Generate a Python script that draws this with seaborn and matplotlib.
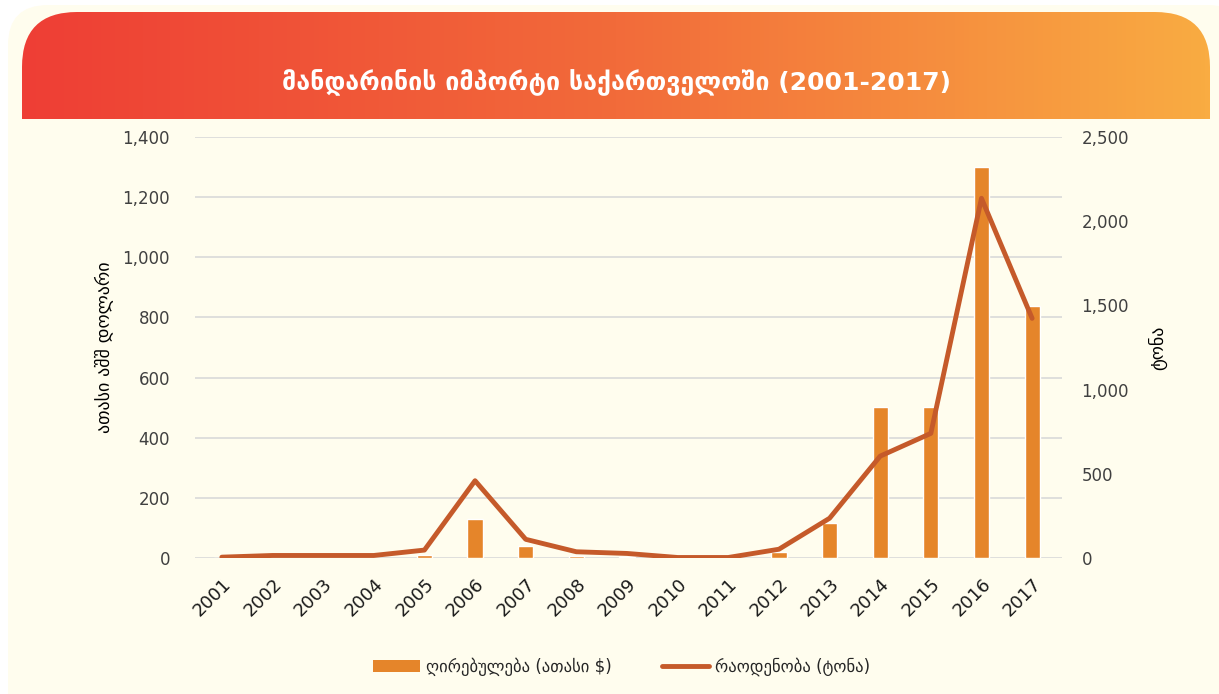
import numpy as np
import matplotlib.pyplot as plt
import seaborn as sns
from matplotlib.patches import FancyBboxPatch, Patch
from matplotlib.lines import Line2D
from matplotlib.ticker import FuncFormatter

years = [str(y) for y in range(2001, 2018)]
# ღირებულება (ათასი $)
value = [0, 1, 1, 1, 9, 129, 40, 6, 2, 0, 0, 20, 117, 502, 503, 1299, 839]
# რაოდენობა (ტონა)
tons = [5, 15, 15, 15, 47, 459, 111, 37, 27, 3, 3, 52, 236, 605, 740, 2136, 1423]

title = "მანდარინის იმპორტი საქართველოში (2001-2017)"
ylabel_left = "ათასი აშშ დოლარი"
ylabel_right = "ტონა"
legend_labels = ["ღირებულება (ათასი $)", "რაოდენობა (ტონა)"]

bar_color = "#E5852A"
line_color = "#C55A2A"
cream = "#FFFDEE"
text_color = "#404040"

sns.set_theme(style="white")
plt.rcParams["font.family"] = ["DejaVu Sans"]

fig = plt.figure(figsize=(12.19, 6.94), dpi=100)
fig.patch.set_facecolor("white")

# cream card behind everything
bg = fig.add_axes([0, 0, 1, 1], zorder=-5)
bg.set_xlim(0, 1219)
bg.set_ylim(0, 694)
bg.axis("off")
bg.add_patch(FancyBboxPatch((8, -40), 1240, 729, boxstyle="round,pad=0,rounding_size=40",
                            facecolor=cream, edgecolor="none"))

# gradient title banner with rounded top corners
ban = fig.add_axes([22 / 1219, 1 - 119 / 694, 1188 / 1219, 107 / 694])
ban.set_xlim(0, 1188)
ban.set_ylim(0, 107)
ban.axis("off")
grad = np.linspace(0, 1, 256).reshape(1, -1)
cmap = sns.blend_palette(["#EE3E35", "#F26B3A", "#F9AC42"], as_cmap=True)
im = ban.imshow(grad, extent=[0, 1188, 0, 107], aspect="auto", cmap=cmap)
clip = FancyBboxPatch((0, -80), 1188, 187, boxstyle="round,pad=0,rounding_size=55",
                      facecolor="none", edgecolor="none", transform=ban.transData)
ban.add_patch(clip)
im.set_clip_path(clip)
ban.text(594, 36, title, color="white", fontsize=18, fontweight="bold",
         ha="center", va="center")

# main chart
ax = fig.add_axes([195 / 1219, 1 - 558 / 694, 867 / 1219, 421 / 694])
ax.set_facecolor("none")
sns.barplot(x=years, y=value, color=bar_color, width=0.3, saturation=1, ax=ax, zorder=2)
ax.set_ylim(0, 1400)
ax.set_yticks(range(0, 1401, 200))
ax.yaxis.grid(True, color="#D9D9D9", linewidth=1.2, zorder=0)
ax.set_axisbelow(True)
for s in ax.spines.values():
    s.set_visible(False)
ax.yaxis.set_major_formatter(FuncFormatter(lambda v, p: f"{v:,.0f}"))
ax.tick_params(axis="y", labelsize=12, labelcolor=text_color, length=0, pad=18)
ax.tick_params(axis="x", labelsize=13, labelcolor="#1A1A1A", length=0, pad=12)
plt.setp(ax.get_xticklabels(), rotation=45, ha="right", rotation_mode="anchor")
ax.set_ylabel(ylabel_left, fontsize=13, color="black", labelpad=6)
ax.set_xlabel("")

ax2 = ax.twinx()
sns.lineplot(x=np.arange(len(years)), y=tons, color=line_color, linewidth=3.5, ax=ax2, zorder=3)
ax2.set_ylim(0, 2500)
ax2.set_yticks(range(0, 2501, 500))
ax2.yaxis.set_major_formatter(FuncFormatter(lambda v, p: f"{v:,.0f}"))
ax2.tick_params(axis="y", labelsize=12, labelcolor=text_color, length=0, pad=14)
for s in ax2.spines.values():
    s.set_visible(False)
ax2.set_ylabel(ylabel_right, fontsize=13, color="black", rotation=90, labelpad=14)
ax.set_xlim(-0.53, 16.59)
ax2.set_xlim(-0.53, 16.59)

handles = [Patch(facecolor=bar_color, edgecolor="none"),
           Line2D([0], [0], color=line_color, linewidth=3.5)]
fig.legend(handles, legend_labels, loc="center", bbox_to_anchor=(0.51, 1 - 667 / 694),
           ncol=2, frameon=False, fontsize=12, columnspacing=3, handlelength=2.8,
           handletextpad=0.4)

fig.savefig("out.png", dpi=100, facecolor=fig.get_facecolor())
